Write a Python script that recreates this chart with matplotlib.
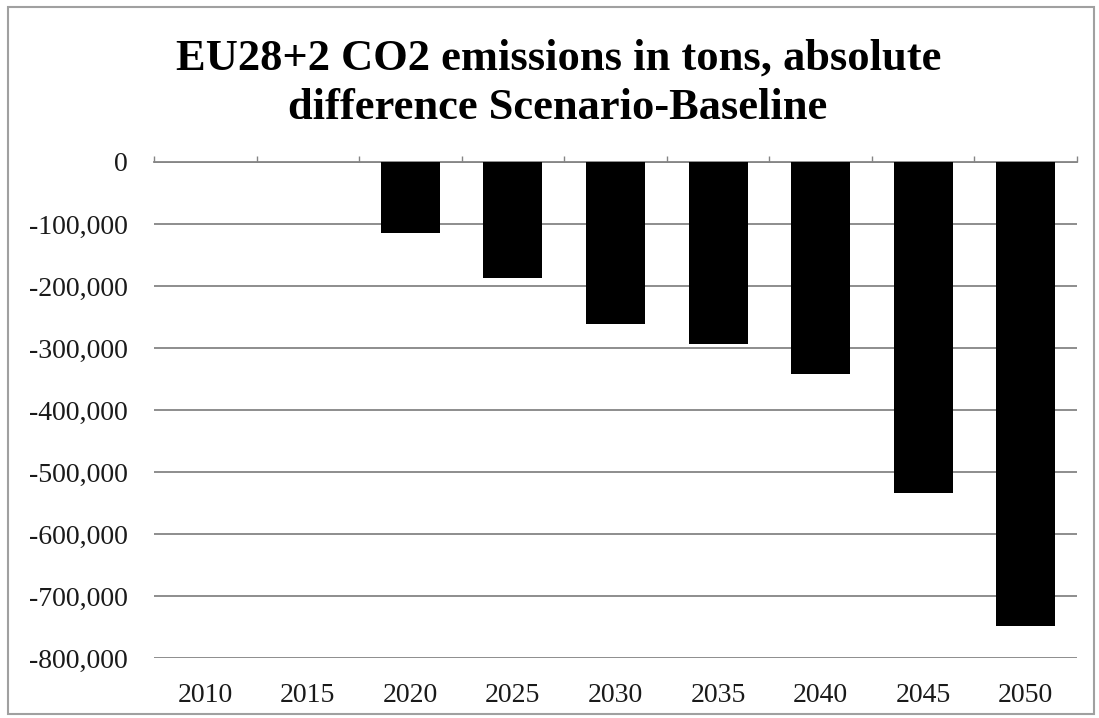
import matplotlib.pyplot as plt
import matplotlib.patches as patches
from matplotlib.ticker import FuncFormatter, MultipleLocator
import numpy as np

# Values (tons of CO2, scenario minus baseline)
years = ['2010', '2015', '2020', '2025', '2030', '2035', '2040', '2045', '2050']
co2_diff = [0, 0, -115000, -187000, -261000, -294000, -342000, -534000, -748000]
y_ticks = [0, -100000, -200000, -300000, -400000, -500000, -600000, -700000, -800000]

title_lines = ["EU28+2 CO2 emissions in tons, absolute", "difference Scenario-Baseline"]

fig = plt.figure(figsize=(10.99, 7.18), dpi=100)
ax = fig.add_axes([0.1401, 0.0836, 0.8399, 0.6908])

x = np.arange(len(years))
ax.bar(x, co2_diff, width=0.575, color='black', zorder=3)

# Axis limits
ax.set_xlim(-0.5, len(years) - 0.5)
ax.set_ylim(min(y_ticks), max(y_ticks))

# Horizontal gridlines
grid_color = '#858585'
ax.set_yticks(y_ticks)
ax.yaxis.set_major_formatter(FuncFormatter(lambda v, p: '0' if v == 0 else f'{int(v):,}'))
ax.grid(axis='y', color=grid_color, linewidth=1.3, zorder=1)
ax.set_axisbelow(True)

# Only the zero line (top spine) is kept, with small ticks between categories
for side in ['left', 'right', 'bottom']:
    ax.spines[side].set_visible(False)
ax.spines['top'].set_color(grid_color)
ax.spines['top'].set_linewidth(1.3)
ax.set_xticks(x)
ax.set_xticklabels(years)
ax.xaxis.set_minor_locator(MultipleLocator(1, offset=0.5))
ax.tick_params(axis='x', which='major', length=0, pad=18)
ax.tick_params(axis='x', which='minor', top=True, bottom=False, direction='out',
               length=4, width=1.0, color=grid_color)
ax.tick_params(axis='y', length=0, pad=19)

for lbl in ax.get_xticklabels() + ax.get_yticklabels():
    lbl.set_fontfamily('Liberation Serif')
    lbl.set_fontsize(20)
    lbl.set_color('#1a1a1a')

# Title, two lines placed on their baselines
fig.text(0.508, 1 - 70 / 718, title_lines[0], ha='center', va='baseline', fontsize=32,
         fontweight='bold', family='Liberation Serif')
fig.text(0.507, 1 - 119 / 718, title_lines[1], ha='center', va='baseline', fontsize=32,
         fontweight='bold', family='Liberation Serif')

# Chart border
fig.patches.append(patches.Rectangle((0.007, 0.005), 0.988, 0.985, transform=fig.transFigure,
                                     fill=False, edgecolor='#a0a0a0', linewidth=1.5))

fig.savefig('out.png', dpi=100)
